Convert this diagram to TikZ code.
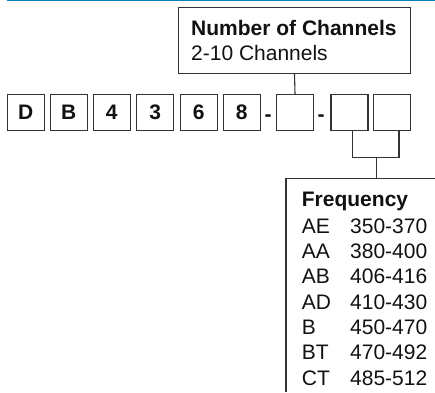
\documentclass[tikz,border=0pt]{standalone}
\usepackage{fontspec}
\setmainfont{Liberation Sans}
\definecolor{lc}{HTML}{333333}
\definecolor{tc}{HTML}{111111}
\definecolor{topblue}{HTML}{0A7BC2}
\begin{document}
\begin{tikzpicture}[x=1pt,y=-1pt,
  ln/.style={draw=lc, line width=1.1pt},
  cbox/.style={ln, rectangle, minimum width=37pt, minimum height=35.7pt, inner sep=0pt,
    font=\fontsize{21}{25}\selectfont\bfseries, text=tc, text height=15pt, text depth=0pt},
  txt/.style={anchor=base west, inner sep=0pt, text=tc, font=\fontsize{21}{25}\selectfont},
  btxt/.style={txt, font=\fontsize{21}{25}\selectfont\bfseries},
]
\useasboundingbox (0,0) rectangle (435,392);
% top rule
\draw[topblue, line width=1.5pt] (7,0.7) -- (435,0.7);
% channels box
\node[ln, rectangle, minimum width=232.4pt, minimum height=66pt, inner sep=0pt] (ch) at (294.5,40.3) {};
\node[btxt] (chT) at (191,35) {Number of Channels};
\node[txt] (chS) at (191,60) {2-10 Channels};
% code boxes
\node[cbox] (bD) at (25.8,112.2) {D};
\node[cbox] (bB) at (68.7,112.2) {B};
\node[cbox] (b4) at (111.7,112.2) {4};
\node[cbox] (b3) at (155.3,112.2) {3};
\node[cbox] (b6) at (198.7,112.2) {6};
\node[cbox] (b8) at (241.7,112.2) {8};
\node[btxt, anchor=base] (d1) at (268,121) {-};
\node[cbox] (c7) at (295,112.2) {};
\node[btxt, anchor=base] (d2) at (321.2,121) {-};
\node[cbox] (c8) at (349.5,112.2) {};
\node[cbox] (c9) at (392.3,112.2) {};
% connectors
\draw[ln] (ch.south) -- (c7.north);
\coordinate (brk) at (376.7,157.7);
\draw[ln] ([xshift=2.8pt]c8.south) |- (brk) -| ([xshift=6.7pt]c9.south);
% frequency box (open to right and bottom)
\coordinate (fqtl) at (286,178.3);
\coordinate (fqbl) at (286,392);
\coordinate (fqtr) at (435,178.3);
\draw[ln] (fqbl) -- (fqtl) -- (fqtr);
\draw[ln] (brk) -- (brk |- fqtl);
\node[btxt] (fqT) at (301.7,206.7) {Frequency};
\foreach \c/\r [count=\i from 0] in {AE/350-370,AA/380-400,AB/406-416,AD/410-430,B/450-470,BT/470-492,CT/485-512}{
  \node[txt] (k\i) at (301.7,233.3+25.3*\i) {\c};
  \node[txt] (v\i) at (350,233.3+25.3*\i) {\r};
}
\end{tikzpicture}
\end{document}
